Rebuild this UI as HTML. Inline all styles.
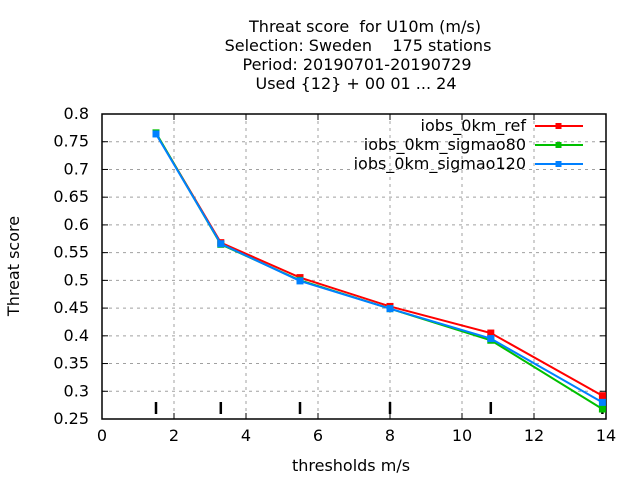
<!DOCTYPE html>
<html><head><meta charset="utf-8"><style>
body{margin:0;background:#fff}
svg text{font-family:"DejaVu Sans","Liberation Sans",sans-serif;font-size:16px;fill:#000;white-space:pre}
</style></head><body>
<svg id="c" width="640" height="480" xmlns="http://www.w3.org/2000/svg">
<g>
<text x="365" y="32" text-anchor="middle" xml:space="preserve">Threat score  for U10m (m/s)</text>
<text x="358" y="51" text-anchor="middle" xml:space="preserve">Selection: Sweden    175 stations</text>
<text x="357" y="70" text-anchor="middle">Period: 20190701-20190729</text>
<text x="356" y="89" text-anchor="middle">Used {12} + 00 01 ... 24</text>
</g>
<g id="grid"></g><g id="axes"></g><g id="series"></g><g id="legend"></g>
<text transform="translate(19,266) rotate(-90)" text-anchor="middle">Threat score</text>
<text x="351" y="471" text-anchor="middle">thresholds m/s</text>
</svg>
<script>
const thresholds=[1.5,3.3,5.5,8,10.8,13.9];
const seriesNames=["iobs_0km_ref","iobs_0km_sigmao80","iobs_0km_sigmao120"];
const refVals=[0.765,0.568,0.505,0.453,0.405,0.292];
const s80Vals=[0.766,0.565,0.500,0.449,0.392,0.268];
const s120Vals=[0.764,0.566,0.499,0.449,0.395,0.280];
const xTicks=[0,2,4,6,8,10,12,14];
const yTicks=[0.25,0.3,0.35,0.4,0.45,0.5,0.55,0.6,0.65,0.7,0.75,0.8];
const colors=["#ff0000","#00c000","#0080ff"];
const L=102,R=606,T=114,B=419;
const X=v=>L+(v-0)/(14-0)*(R-L);
const Y=v=>B-(v-0.25)/(0.8-0.25)*(B-T);
const NS="http://www.w3.org/2000/svg";
function mk(p,t,a){const e=document.createElementNS(NS,t);for(const k in a)e.setAttribute(k,a[k]);p.appendChild(e);return e;}
const g=document.getElementById('grid'),ax=document.getElementById('axes'),se=document.getElementById('series'),lg=document.getElementById('legend');
xTicks.forEach((v,i)=>{
 if(i>0&&i<xTicks.length-1){const l=mk(g,'line',{x1:X(v),x2:X(v),y1:T,y2:B,stroke:'#a0a0a0','stroke-dasharray':'3,4'});
 
 }
 mk(ax,'line',{x1:X(v),x2:X(v),y1:B,y2:B-6,stroke:'#000'});mk(ax,'line',{x1:X(v),x2:X(v),y1:T,y2:T+6,stroke:'#000'});
 const t=mk(ax,'text',{x:X(v),y:B+22,'text-anchor':'middle'});t.textContent=v;
 
 
});
yTicks.forEach((v,i)=>{
 if(i>0&&i<yTicks.length-1){const l=mk(g,'line',{x1:L,x2:R,y1:Y(v),y2:Y(v),stroke:'#a0a0a0','stroke-dasharray':'3,4'});
 
 }
 mk(ax,'line',{x1:L,x2:L+6,y1:Y(v),y2:Y(v),stroke:'#000'});mk(ax,'line',{x1:R,x2:R-6,y1:Y(v),y2:Y(v),stroke:'#000'});
 const t=mk(ax,'text',{x:L-13,y:Y(v)+5,'text-anchor':'end'});t.textContent=v;
 
 
});
const fr=mk(ax,'rect',{x:L,y:T,width:R-L,height:B-T,fill:'none',stroke:'#000','stroke-width':1.5});


thresholds.forEach(v=>{const m=mk(ax,'line',{x1:X(v),x2:X(v),y1:B-17,y2:B-5,stroke:'#000','stroke-width':2.5});
 
 });
[refVals,s80Vals,s120Vals].forEach((vals,si)=>{
 const grp=mk(se,'g',{});
 
 
 mk(grp,'polyline',{points:vals.map((v,i)=>X(thresholds[i])+','+Y(v)).join(' '),fill:'none',stroke:colors[si],'stroke-width':2});
 vals.forEach((v,i)=>{const p=mk(grp,'rect',{x:X(thresholds[i])-3.5,y:Y(v)-3.5,width:7,height:7,fill:colors[si]});
  
  });
 const ly=126+si*19;
 const le=mk(lg,'g',{});
 
 
 const t=mk(le,'text',{x:526,y:ly+5,'text-anchor':'end'});t.textContent=seriesNames[si];
 mk(le,'line',{x1:535,x2:583,y1:ly,y2:ly,stroke:colors[si],'stroke-width':2});
 mk(le,'rect',{x:555.5,y:ly-3,width:6,height:6,fill:colors[si]});
});
</script>
</body></html>
